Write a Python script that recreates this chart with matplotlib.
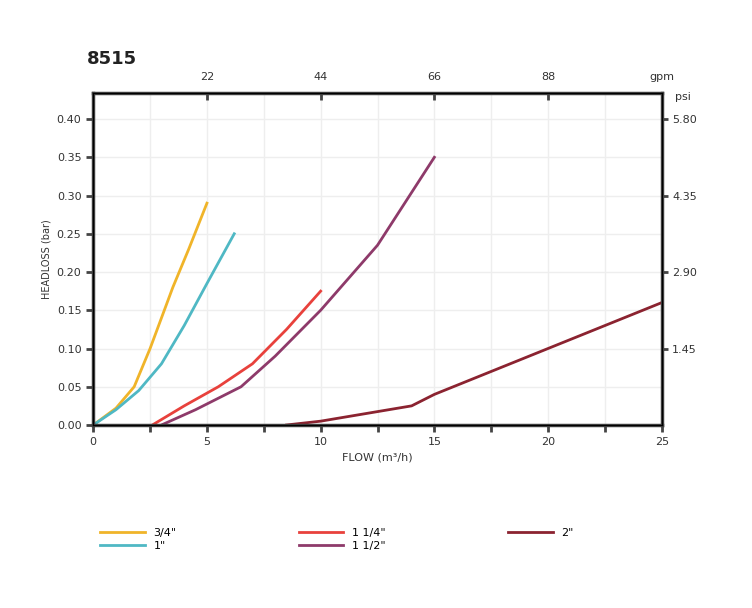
import numpy as np
import matplotlib.pyplot as plt

x34 = [0, 1, 1.8, 2.5, 3.5, 4.2, 5]
y34 = [0, 0.022, 0.05, 0.1, 0.18, 0.23, 0.29]
x1 = [0, 1, 2, 3, 4, 5, 6.2]
y1 = [0, 0.02, 0.045, 0.08, 0.13, 0.185, 0.25]
x114 = [2.6, 4, 5.5, 7, 8.5, 10]
y114 = [0, 0.025, 0.05, 0.08, 0.125, 0.175]
x112 = [3, 4.5, 6.5, 8, 10, 12.5, 15]
y112 = [0, 0.02, 0.05, 0.09, 0.15, 0.235, 0.35]
x2 = [8.5, 10, 13, 14, 15, 17.5, 20, 22.5, 25]
y2 = [0, 0.005, 0.02, 0.025, 0.04, 0.07, 0.1, 0.13, 0.16]

gpm_labels = ['22', '44', '66', '88', 'gpm']
psi_labels = ['1.45', '2.90', '4.35', '5.80']

fig = plt.figure(figsize=(7.52, 6.08), dpi=100)
ax = fig.add_axes([0.124, 0.301, 0.756, 0.546])
series = [(x34, y34, '#f0b429', '3/4"'), (x1, y1, '#4fb8c4', '1"'),
          (x114, y114, '#e8413c', '1 1/4"'), (x112, y112, '#8e3a6a', '1 1/2"'),
          (x2, y2, '#8b2330', '2"')]
lines = []
for x, y, c, lab in series:
    l, = ax.plot(x, y, color=c, lw=2, label=lab)
    lines.append(l)

ax.set_xlim(0, 25)
ax.set_ylim(0, 0.434)
ax.set_xticks(np.arange(0, 26, 5))
ax.set_xticks(np.arange(0, 26, 2.5), minor=True)
ax.set_yticks(np.arange(0, 0.41, 0.05))
ax.set_yticklabels([f'{v:.2f}' for v in np.arange(0, 0.41, 0.05)])
ax.grid(True, which='both', color='#eeeeee', lw=1)
ax.tick_params(labelsize=8, width=2, length=5, color='#444444', labelcolor='#333333')
ax.tick_params(which='minor', width=2, length=5, color='#444444')
for s in ax.spines.values():
    s.set_linewidth(2.5)
    s.set_color('#444444')
ax.set_xlabel('FLOW (m³/h)', fontsize=8, color='#333333')
ax.set_ylabel('HEADLOSS (bar)', fontsize=7, color='#333333')

top = ax.twiny()
top.set_xlim(0, 25)
top.set_xticks([5, 10, 15, 20, 25])
top.set_xticklabels(gpm_labels)
top.tick_params(labelsize=8, width=2, length=5, direction='in', color='#444444',
                labelcolor='#333333', pad=8)

right = ax.twinx()
right.set_ylim(0, 0.434)
right.set_yticks([0.1, 0.2, 0.3, 0.4])
right.set_yticklabels(psi_labels)
right.tick_params(labelsize=8, width=2, length=4, color='#444444', labelcolor='#333333')
fig.text(0.898, 0.835, 'psi', fontsize=8, ha='left', color='#333333')

fig.text(0.115, 0.895, '8515', fontsize=13, fontweight='bold', color='#222222')

fig.legend(lines, [l.get_label() for l in lines], ncol=3, loc='upper left',
           bbox_to_anchor=(0.12, 0.148), frameon=False, fontsize=8,
           handlelength=4, columnspacing=11, labelspacing=0.3)

fig.savefig('out.png')
